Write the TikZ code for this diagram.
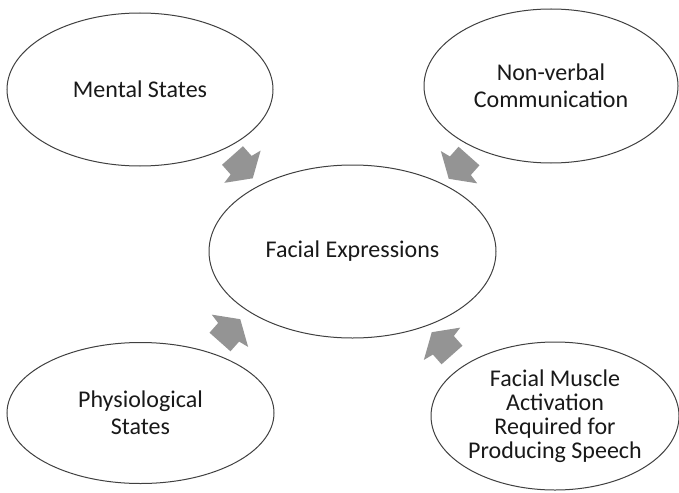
\documentclass[tikz,border=0pt]{standalone}
\usepackage{fontspec}
\setmainfont{Carlito}
\usetikzlibrary{shapes.geometric}
\definecolor{edgegray}{RGB}{64,64,64}
\definecolor{arrowgray}{RGB}{148,148,148}
\definecolor{textdark}{RGB}{25,25,25}
\tikzset{
  bubble/.style={ellipse, draw=edgegray, line width=1pt, fill=white,
    inner sep=0pt, align=center, text=textdark,
    font=\fontsize{24}{27}\selectfont},
  arrowfill/.style={fill=arrowgray, draw=none}
}
% short fat block arrow, tail at the local origin, pointing along +x
\newcommand{\blockarrow}[2]{%
  \fill[arrowfill, shift={#1}, rotate=#2]
    (0,14) -- (13,14) -- (15,24.3) -- (30.5,0) -- (15,-24.3) -- (13,-14) -- (0,-14) -- cycle;}
\begin{document}
\begin{tikzpicture}[x=1pt, y=-1pt]
  \useasboundingbox (0,0) rectangle (679,492);

  \node[bubble, minimum width=266pt, minimum height=153pt] (ms) at (140,89.5) {Mental States};
  \node[bubble, minimum width=254pt, minimum height=154pt] (nv) at (551,86) {Non-verbal\\Communication};
  \node[bubble, minimum width=287pt, minimum height=173pt] (fe) at (352.5,251.5) {Facial Expressions};
  \node[bubble, minimum width=267pt, minimum height=141pt] (ps) at (140.5,413) {Physiological\\States};
  \node[bubble, minimum width=248pt, minimum height=148pt,
        font=\fontsize{24}{24}\selectfont] (fm) at (555,416)
        {Facial Muscle\\Activation\\Required for\\Producing Speech};

  % arrow tails, each arrow points towards the central bubble
  \coordinate (a1) at (232.5,155.5);
  \coordinate (a2) at (469,156);
  \coordinate (a3) at (220,342);
  \coordinate (a4) at (452,355);
  \blockarrow{(a1)}{-48.4}
  \blockarrow{(a2)}{-131.6}
  \blockarrow{(a3)}{48.4}
  \blockarrow{(a4)}{131.6}
\end{tikzpicture}
\end{document}
